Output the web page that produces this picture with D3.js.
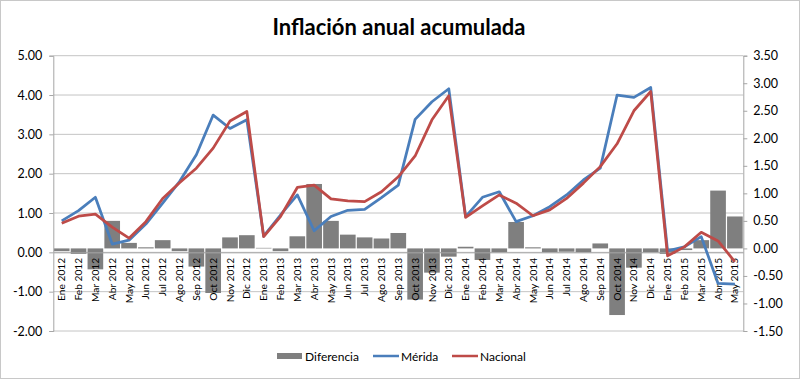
<!DOCTYPE html>
<html><head><meta charset="utf-8">
<script src="https://cdn.jsdelivr.net/npm/d3@7"></script>
<style>
body{margin:0;background:#fff}
svg{display:block}
text{font-family:Lato,"Open Sans",sans-serif;fill:#000}
</style>
</head><body>
<svg id="chart" width="800" height="379"></svg>
<script>
const categories = [
 "Ene 2012","Feb 2012","Mar 2012","Abr 2012","May 2012","Jun 2012","Jul 2012","Ago 2012","Sep 2012","Oct 2012","Nov 2012","Dic 2012",
 "Ene 2013","Feb 2013","Mar 2013","Abr 2013","May 2013","Jun 2013","Jul 2013","Ago 2013","Sep 2013","Oct 2013","Nov 2013","Dic 2013",
 "Ene 2014","Feb 2014","Mar 2014","Abr 2014","May 2014","Jun 2014","Jul 2014","Ago 2014","Sep 2014","Oct 2014","Nov 2014","Dic 2014",
 "Ene 2015","Feb 2015","Mar 2015","Abr 2015","May 2015"];
const merida = [0.80,1.06,1.40,0.21,0.31,0.72,1.25,1.80,2.48,3.49,3.15,3.37,
 0.41,0.95,1.46,0.55,0.91,1.07,1.09,1.39,1.71,3.38,3.83,4.16,
 0.91,1.40,1.54,0.78,0.93,1.16,1.46,1.84,2.14,4.00,3.94,4.19,
 0.04,0.14,0.40,-0.79,-0.81];
const nacional = [0.74,0.92,0.97,0.64,0.36,0.78,1.37,1.77,2.14,2.65,3.34,3.58,
 0.40,0.91,1.65,1.71,1.36,1.31,1.29,1.54,1.92,2.45,3.37,3.98,
 0.89,1.18,1.46,1.25,0.93,1.08,1.37,1.76,2.18,2.76,3.60,4.09,
 -0.09,0.14,0.51,0.29,-0.24];
const diferencia = [-0.05,-0.10,-0.38,0.50,0.10,0.02,0.15,-0.05,-0.33,-0.81,0.20,0.24,
 0.01,-0.05,0.22,1.17,0.50,0.25,0.20,0.18,0.28,-0.93,-0.44,-0.15,
 0.03,-0.21,-0.07,0.48,0.02,-0.07,-0.06,-0.07,0.09,-1.21,-0.35,-0.07,
 -0.10,-0.03,0.15,1.05,0.58];
const leftTicks = [-2,-1,0,1,2,3,4,5];
const rightTicks = [-1.5,-1,-0.5,0,0.5,1,1.5,2,2.5,3,3.5];
const title = "Inflación anual acumulada";
const legendItems = [
 {name:"Diferencia", type:"bar"},
 {name:"Mérida", type:"line", key:"m"},
 {name:"Nacional", type:"line", key:"n"}];

const C = {bar:"#7f7f7f", m:"#4a7ebb", n:"#be4b48", grid:"#c4c4c4", axis:"#a6a6a6"};
const svg = d3.select("#chart");
const L = 53.3, R = 743.3, T = 55.7, B = 331;

svg.append("rect").attr("x",0.5).attr("y",0.5).attr("width",799).attr("height",378)
  .attr("fill","#fff").attr("stroke","#c8c8c8");

const x = d3.scaleBand().domain(categories).range([L,R]).paddingInner(0.07).paddingOuter(0.035);
const yL = d3.scaleLinear().domain([-2,5]).range([B,T]);
const yR = d3.scaleLinear().domain([-1.5,3.5]).range([B,T]);
const cx = c => x(c) + x.bandwidth()/2;
const fmt = d => d.toFixed(2);

// gridlines
svg.append("g").selectAll("line").data(leftTicks).join("line")
  .attr("x1",L).attr("x2",R).attr("y1",d=>yL(d)).attr("y2",d=>yL(d))
  .attr("stroke",C.grid).attr("stroke-width",1);

// bars
svg.append("g").selectAll("rect").data(categories).join("rect")
  .attr("x",d=>x(d)).attr("width",x.bandwidth())
  .attr("y",(d,i)=>Math.min(yR(diferencia[i]),yR(0)))
  .attr("height",(d,i)=>Math.abs(yR(diferencia[i])-yR(0)))
  .attr("fill",C.bar);

// axes
const gl = svg.append("g").attr("transform",`translate(${L},0)`)
  .call(d3.axisLeft(yL).tickValues(leftTicks).tickFormat(fmt).tickSize(4).tickPadding(7));
const gr = svg.append("g").attr("transform",`translate(${R},0)`)
  .call(d3.axisRight(yR).tickValues(rightTicks).tickFormat(fmt).tickSize(4).tickPadding(6));
const gx = svg.append("g").attr("transform",`translate(0,${yL(0)})`)
  .call(d3.axisBottom(x).tickSize(0).tickSizeOuter(0));
[gl,gr,gx].forEach(g=>{
  g.selectAll("path,line").attr("stroke",C.axis);
  g.selectAll("text").style("font-family","Lato,'Open Sans',sans-serif").attr("fill","#000");
});
gl.selectAll("text").style("font-size","12.5px");
gr.selectAll("text").style("font-size","12.5px");
gx.selectAll("text").style("font-size","10.2px")
  .attr("transform","rotate(-90)").attr("text-anchor","end")
  .attr("x",-5.5).attr("y",0).attr("dy","0.35em");

// lines
const line = arr => d3.line().x((d,i)=>cx(categories[i])).y(d=>yL(d))(arr);
svg.append("path").attr("d",line(merida)).attr("fill","none").attr("stroke",C.m)
  .attr("stroke-width",2.75).attr("stroke-linejoin","round");
svg.append("path").attr("d",line(nacional)).attr("fill","none").attr("stroke",C.n)
  .attr("stroke-width",2.75).attr("stroke-linejoin","round");

// title
svg.append("text").attr("x",399).attr("y",35).attr("text-anchor","middle")
  .style("font-size","22px").style("font-weight","bold").text(title);

// legend
const lx = [277, 373, 452];
const lg = svg.append("g").selectAll("g").data(legendItems).join("g")
  .attr("transform",(d,i)=>`translate(${lx[i]},356)`);
lg.filter(d=>d.type==="bar").append("rect").attr("x",0).attr("y",-3).attr("width",25).attr("height",6).attr("fill",C.bar);
lg.filter(d=>d.type==="line").append("line").attr("x1",0).attr("x2",26).attr("y1",0).attr("y2",0)
  .attr("stroke",d=>C[d.key]).attr("stroke-width",2.5);
lg.append("text").attr("x",28).attr("y",4.5).style("font-size","12px").text(d=>d.name);
</script>
</body></html>
